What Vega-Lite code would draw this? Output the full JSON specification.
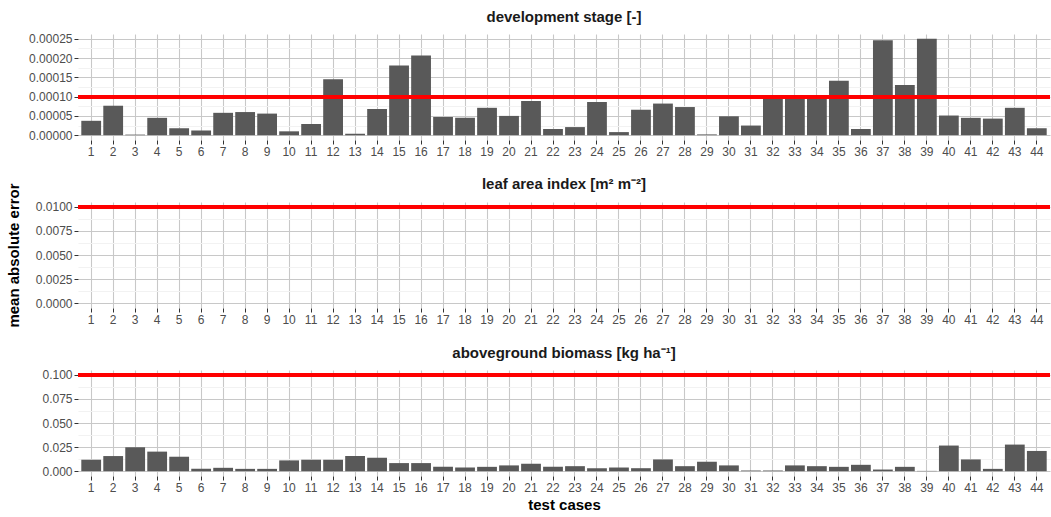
{
  "$schema": "https://vega.github.io/schema/vega-lite/v6.json",
  "padding": {"left": 6, "top": 9, "right": 0, "bottom": 2},
  "background": "white",
  "datasets": {
    "mae": [
      {"case":1,"variable":"dvs","mae":0.0000373},{"case":2,"variable":"dvs","mae":0.0000764},{"case":3,"variable":"dvs","mae":0.0000015},{"case":4,"variable":"dvs","mae":0.000045},
      {"case":5,"variable":"dvs","mae":0.000018},{"case":6,"variable":"dvs","mae":0.000012},{"case":7,"variable":"dvs","mae":0.000058},{"case":8,"variable":"dvs","mae":0.00006},
      {"case":9,"variable":"dvs","mae":0.000056},{"case":10,"variable":"dvs","mae":0.00001},{"case":11,"variable":"dvs","mae":0.000029},{"case":12,"variable":"dvs","mae":0.000145},
      {"case":13,"variable":"dvs","mae":0.000004},{"case":14,"variable":"dvs","mae":0.000068},{"case":15,"variable":"dvs","mae":0.000181},{"case":16,"variable":"dvs","mae":0.000207},
      {"case":17,"variable":"dvs","mae":0.000047},{"case":18,"variable":"dvs","mae":0.000045},{"case":19,"variable":"dvs","mae":0.000071},{"case":20,"variable":"dvs","mae":0.00005},
      {"case":21,"variable":"dvs","mae":0.000089},{"case":22,"variable":"dvs","mae":0.000016},{"case":23,"variable":"dvs","mae":0.000021},{"case":24,"variable":"dvs","mae":0.000086},
      {"case":25,"variable":"dvs","mae":0.000008},{"case":26,"variable":"dvs","mae":0.000066},{"case":27,"variable":"dvs","mae":0.000082},{"case":28,"variable":"dvs","mae":0.000073},
      {"case":29,"variable":"dvs","mae":0.000002},{"case":30,"variable":"dvs","mae":0.000049},{"case":31,"variable":"dvs","mae":0.000025},{"case":32,"variable":"dvs","mae":0.0001},
      {"case":33,"variable":"dvs","mae":0.000094},{"case":34,"variable":"dvs","mae":0.0000995},{"case":35,"variable":"dvs","mae":0.0001415},{"case":36,"variable":"dvs","mae":0.000016},
      {"case":37,"variable":"dvs","mae":0.000246},{"case":38,"variable":"dvs","mae":0.00013},{"case":39,"variable":"dvs","mae":0.00025},{"case":40,"variable":"dvs","mae":0.000051},
      {"case":41,"variable":"dvs","mae":0.000045},{"case":42,"variable":"dvs","mae":0.000043},{"case":43,"variable":"dvs","mae":0.000071},{"case":44,"variable":"dvs","mae":0.000018},
      {"case":1,"variable":"lai","mae":0},{"case":2,"variable":"lai","mae":0},{"case":3,"variable":"lai","mae":0},{"case":4,"variable":"lai","mae":0},
      {"case":5,"variable":"lai","mae":0},{"case":6,"variable":"lai","mae":0},{"case":7,"variable":"lai","mae":0},{"case":8,"variable":"lai","mae":0},
      {"case":9,"variable":"lai","mae":0},{"case":10,"variable":"lai","mae":0},{"case":11,"variable":"lai","mae":0},{"case":12,"variable":"lai","mae":0},
      {"case":13,"variable":"lai","mae":0},{"case":14,"variable":"lai","mae":0},{"case":15,"variable":"lai","mae":0},{"case":16,"variable":"lai","mae":0},
      {"case":17,"variable":"lai","mae":0},{"case":18,"variable":"lai","mae":0},{"case":19,"variable":"lai","mae":0},{"case":20,"variable":"lai","mae":0},
      {"case":21,"variable":"lai","mae":0},{"case":22,"variable":"lai","mae":0},{"case":23,"variable":"lai","mae":0},{"case":24,"variable":"lai","mae":0},
      {"case":25,"variable":"lai","mae":0},{"case":26,"variable":"lai","mae":0},{"case":27,"variable":"lai","mae":0},{"case":28,"variable":"lai","mae":0},
      {"case":29,"variable":"lai","mae":0},{"case":30,"variable":"lai","mae":0},{"case":31,"variable":"lai","mae":0},{"case":32,"variable":"lai","mae":0},
      {"case":33,"variable":"lai","mae":0},{"case":34,"variable":"lai","mae":0},{"case":35,"variable":"lai","mae":0},{"case":36,"variable":"lai","mae":0},
      {"case":37,"variable":"lai","mae":0},{"case":38,"variable":"lai","mae":0},{"case":39,"variable":"lai","mae":0},{"case":40,"variable":"lai","mae":0},
      {"case":41,"variable":"lai","mae":0},{"case":42,"variable":"lai","mae":0},{"case":43,"variable":"lai","mae":0},{"case":44,"variable":"lai","mae":0},
      {"case":1,"variable":"agb","mae":0.0119},{"case":2,"variable":"agb","mae":0.0157},{"case":3,"variable":"agb","mae":0.0248},{"case":4,"variable":"agb","mae":0.0203},
      {"case":5,"variable":"agb","mae":0.015},{"case":6,"variable":"agb","mae":0.0024},{"case":7,"variable":"agb","mae":0.0035},{"case":8,"variable":"agb","mae":0.0024},
      {"case":9,"variable":"agb","mae":0.0024},{"case":10,"variable":"agb","mae":0.0112},{"case":11,"variable":"agb","mae":0.0119},{"case":12,"variable":"agb","mae":0.0119},
      {"case":13,"variable":"agb","mae":0.0157},{"case":14,"variable":"agb","mae":0.014},{"case":15,"variable":"agb","mae":0.0084},{"case":16,"variable":"agb","mae":0.0084},
      {"case":17,"variable":"agb","mae":0.0045},{"case":18,"variable":"agb","mae":0.0038},{"case":19,"variable":"agb","mae":0.0045},{"case":20,"variable":"agb","mae":0.006},
      {"case":21,"variable":"agb","mae":0.0077},{"case":22,"variable":"agb","mae":0.0045},{"case":23,"variable":"agb","mae":0.0052},{"case":24,"variable":"agb","mae":0.0031},
      {"case":25,"variable":"agb","mae":0.0038},{"case":26,"variable":"agb","mae":0.0031},{"case":27,"variable":"agb","mae":0.0122},{"case":28,"variable":"agb","mae":0.0052},
      {"case":29,"variable":"agb","mae":0.0098},{"case":30,"variable":"agb","mae":0.006},{"case":31,"variable":"agb","mae":0.0007},{"case":32,"variable":"agb","mae":0.0007},
      {"case":33,"variable":"agb","mae":0.006},{"case":34,"variable":"agb","mae":0.0052},{"case":35,"variable":"agb","mae":0.0045},{"case":36,"variable":"agb","mae":0.0066},
      {"case":37,"variable":"agb","mae":0.0017},{"case":38,"variable":"agb","mae":0.0045},{"case":39,"variable":"agb","mae":0.0003},{"case":40,"variable":"agb","mae":0.0266},
      {"case":41,"variable":"agb","mae":0.0122},{"case":42,"variable":"agb","mae":0.0024},{"case":43,"variable":"agb","mae":0.0276},{"case":44,"variable":"agb","mae":0.021}
    ]
  },
  "data": {"name": "mae"},
  "spacing": 62,
  "bounds": "flush",
  "vconcat": [
    {
      "width": 972, "height": 106,
      "title": {"text": "development stage [-]"},
      "transform": [{"filter": "datum.variable === 'dvs'"}],
      "resolve": {"axis": {"y": "independent"}},
      "layer": [
        {
          "mark": {"type": "bar", "color": "#595959"},
          "encoding": {
            "x": {"field": "case", "type": "ordinal", "title": null,
                  "scale": {"paddingInner": 0.1, "paddingOuter": 0.15},
                  "axis": {"labelAngle": 0, "grid": true, "bandPosition": 0.5, "tickSize": 4, "labelPadding": 2}},
            "y": {"field": "mae", "type": "quantitative", "title": null,
                  "scale": {"domain": [-0.0000125, 0.0002625], "nice": false, "zero": false},
                  "axis": {"orient": "left", "values": [0, 0.00005, 0.0001, 0.00015, 0.0002, 0.00025], "format": ".5f", "grid": true}}
          }
        },
        {
          "mark": {"type": "rule", "color": "#ff0000", "strokeWidth": 3.3},
          "encoding": {
            "y": {"datum": 0.0001, "type": "quantitative",
                  "axis": {"orient": "left", "values": [0.000025, 0.000075, 0.000125, 0.000175, 0.000225], "labels": false, "ticks": false, "grid": true, "gridColor": "#f2f2f2", "title": null}}
          }
        }
      ]
    },
    {
      "width": 972, "height": 106,
      "title": {"text": "leaf area index [m² m⁻²]", "offset": -9},
      "transform": [{"filter": "datum.variable === 'lai'"}],
      "resolve": {"axis": {"y": "independent"}},
      "layer": [
        {
          "mark": {"type": "bar", "color": "#595959"},
          "encoding": {
            "x": {"field": "case", "type": "ordinal", "title": null,
                  "scale": {"paddingInner": 0.1, "paddingOuter": 0.15},
                  "axis": {"labelAngle": 0, "grid": true, "bandPosition": 0.5, "tickSize": 4, "labelPadding": 2}},
            "y": {"field": "mae", "type": "quantitative", "title": "mean absolute error",
                  "scale": {"domain": [-0.0005, 0.0105], "nice": false, "zero": false},
                  "axis": {"orient": "left", "values": [0, 0.0025, 0.005, 0.0075, 0.01], "format": ".4f", "grid": true, "titlePadding": 14}}
          }
        },
        {
          "mark": {"type": "rule", "color": "#ff0000", "strokeWidth": 3.3},
          "encoding": {
            "y": {"datum": 0.01, "type": "quantitative",
                  "axis": {"orient": "left", "values": [0.00125, 0.00375, 0.00625, 0.00875], "labels": false, "ticks": false, "grid": true, "gridColor": "#f2f2f2", "title": null}}
          }
        }
      ]
    },
    {
      "width": 972, "height": 106,
      "title": {"text": "aboveground biomass [kg ha⁻¹]"},
      "transform": [{"filter": "datum.variable === 'agb'"}],
      "resolve": {"axis": {"y": "independent"}},
      "layer": [
        {
          "mark": {"type": "bar", "color": "#595959"},
          "encoding": {
            "x": {"field": "case", "type": "ordinal", "title": "test cases",
                  "scale": {"paddingInner": 0.1, "paddingOuter": 0.15},
                  "axis": {"labelAngle": 0, "grid": true, "bandPosition": 0.5, "tickSize": 4, "labelPadding": 2, "titlePadding": 4}},
            "y": {"field": "mae", "type": "quantitative", "title": null,
                  "scale": {"domain": [-0.005, 0.105], "nice": false, "zero": false},
                  "axis": {"orient": "left", "values": [0, 0.025, 0.05, 0.075, 0.1], "format": ".3f", "grid": true}}
          }
        },
        {
          "mark": {"type": "rule", "color": "#ff0000", "strokeWidth": 3.3},
          "encoding": {
            "y": {"datum": 0.1, "type": "quantitative",
                  "axis": {"orient": "left", "values": [0.0125, 0.0375, 0.0625, 0.0875], "labels": false, "ticks": false, "grid": true, "gridColor": "#f2f2f2", "title": null}}
          }
        }
      ]
    }
  ],
  "config": {
    "view": {"stroke": null},
    "font": "Liberation Sans",
    "axis": {
      "labelFont": "Liberation Sans", "labelFontSize": 12, "labelColor": "#4d4d4d",
      "tickColor": "#333333", "tickSize": 4, "labelPadding": 2, "domain": false,
      "gridColor": "#c8c8c8", "gridWidth": 1.1,
      "titleFont": "Liberation Sans", "titleFontSize": 15, "titleFontWeight": "bold", "titleColor": "#000000"
    },
    "title": {"font": "Liberation Sans", "fontSize": 15, "fontWeight": "bold", "color": "#1a1a1a", "anchor": "middle", "offset": 8}
  }
}
